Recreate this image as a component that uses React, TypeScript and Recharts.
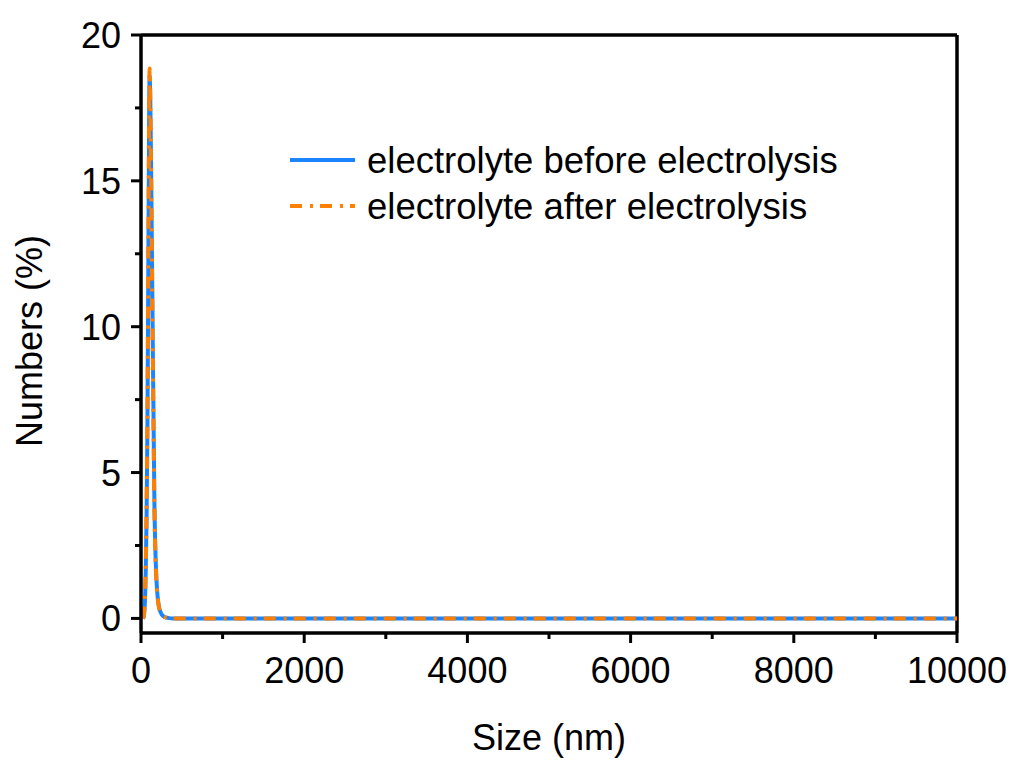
import React from 'react';
import { LineChart, Line, XAxis, YAxis, Legend, ReferenceLine } from 'recharts';

// Particle size distribution (DLS, number-weighted)
const sizes = [
  24.36, 28.21, 32.67, 37.84, 43.82, 50.75, 58.77, 68.06, 78.82, 91.28, 105.7, 122.4,
  141.8, 164.2, 190.1, 220.2, 255.0, 295.3, 342.0, 396.1, 458.7, 531.2, 615.1, 712.4,
  825.0, 955.4, 1106, 1281, 1484, 1718, 1990, 2305, 2669, 3091, 3580, 4145, 4801,
  5560, 6439, 7456, 8635, 10000,
];
const before = [
  0, 0.02, 0.06, 0.15, 0.35, 0.8, 1.7, 3.4, 6.6, 12.8, 18.6, 15.9,
  10.2, 4.0, 1.3, 0.4, 0.13, 0.04, 0.01, 0, 0, 0, 0, 0,
  0, 0, 0, 0, 0, 0, 0, 0, 0, 0, 0, 0, 0,
  0, 0, 0, 0, 0,
];
const after = [
  0, 0.02, 0.07, 0.17, 0.4, 0.9, 1.9, 3.7, 7.0, 13.2, 18.85, 15.6,
  9.8, 3.8, 1.2, 0.38, 0.12, 0.04, 0.01, 0, 0, 0, 0, 0,
  0, 0, 0, 0, 0, 0, 0, 0, 0, 0, 0, 0, 0,
  0, 0, 0, 0, 0,
];

const xTicks = [0, 1000, 2000, 3000, 4000, 5000, 6000, 7000, 8000, 9000, 10000];
const yTicks = [0, 2.5, 5, 7.5, 10, 12.5, 15, 17.5, 20];
const xDomain = [0, 10000];
const yDomain = [-0.5, 20];
const seriesNames = ['electrolyte before electrolysis', 'electrolyte after electrolysis'];

const data = sizes.map((s, i) => ({ size: s, before: before[i], after: after[i] }));

const FONT = '"Liberation Sans", Arial, Helvetica, sans-serif';
const BLUE = '#1a85ff';
const ORANGE = '#ff8000';
const DASH = '12 8 3 7';

const XTick = (props: any) => {
  const { x, y, payload } = props;
  const v = payload.value as number;
  const major = v % 2000 === 0;
  return (
    <g>
      <line x1={x} x2={x} y1={y} y2={y + (major ? 10 : 6)} stroke="#000" strokeWidth={3} />
      {major && (
        <text x={x} y={y + 50} textAnchor="middle" fontSize={36} fontFamily={FONT} fill="#000">
          {v}
        </text>
      )}
    </g>
  );
};

const YTick = (props: any) => {
  const { x, y, payload } = props;
  const v = payload.value as number;
  const major = v % 5 === 0;
  return (
    <g>
      <line x1={x - (major ? 10 : 6)} x2={x} y1={y} y2={y} stroke="#000" strokeWidth={3} />
      {major && (
        <text x={x - 20} y={y + 13} textAnchor="end" fontSize={36} fontFamily={FONT} fill="#000">
          {v}
        </text>
      )}
    </g>
  );
};

const XTitle = () => (
  <text x={549} y={750} textAnchor="middle" fontSize={36} fontFamily={FONT} fill="#000">
    Size (nm)
  </text>
);

const YTitle = () => (
  <text
    x={42}
    y={341}
    transform="rotate(-90 42 341)"
    textAnchor="middle"
    fontSize={36}
    fontFamily={FONT}
    fill="#000"
  >
    Numbers (%)
  </text>
);

const renderLegend = () => (
  <svg width={640} height={120} style={{ display: 'block' }}>
    <line x1={10} x2={75} y1={40} y2={40} stroke={BLUE} strokeWidth={4} />
    <text x={87} y={53} fontSize={36.5} fontFamily={FONT} fill="#000">
      {seriesNames[0]}
    </text>
    <line x1={10} x2={75} y1={86} y2={86} stroke={ORANGE} strokeWidth={4} strokeDasharray={DASH} />
    <text x={87} y={99} fontSize={36.5} fontFamily={FONT} fill="#000">
      {seriesNames[1]}
    </text>
  </svg>
);

export default function App() {
  return (
    <div style={{ position: 'absolute', left: 0, top: 0, width: 1013, height: 763, background: '#fff' }}>
      <LineChart
        width={1013}
        height={763}
        data={data}
        margin={{ top: 35, right: 56, bottom: 0, left: 0 }}
      >
        <XAxis
          dataKey="size"
          type="number"
          domain={xDomain}
          ticks={xTicks}
          interval={0}
          tick={<XTick />}
          tickSize={0}
          tickMargin={0}
          tickLine={false}
          height={130}
          axisLine={{ stroke: '#000', strokeWidth: 3.5 }}
          allowDataOverflow
          label={XTitle as any}
        />
        <YAxis
          type="number"
          domain={yDomain}
          ticks={yTicks}
          interval={0}
          tick={<YTick />}
          tickSize={0}
          tickMargin={0}
          tickLine={false}
          width={141}
          axisLine={{ stroke: '#000', strokeWidth: 3.5 }}
          allowDataOverflow
          label={YTitle as any}
        />
        {/* closing frame: top and right edges of the plot box */}
        <ReferenceLine y={yDomain[1]} stroke="#000" strokeWidth={3.5} ifOverflow="visible" />
        <ReferenceLine x={xDomain[1]} stroke="#000" strokeWidth={3.5} ifOverflow="visible" />
        <Legend
          layout="vertical"
          align="center"
          verticalAlign="middle"
          content={renderLegend}
          wrapperStyle={{ left: 280, top: 120, width: 640, height: 120 }}
        />
        <Line
          type="monotone"
          dataKey="before"
          name={seriesNames[0]}
          stroke={BLUE}
          strokeWidth={4}
          dot={false}
          isAnimationActive={false}
        />
        <Line
          type="monotone"
          dataKey="after"
          name={seriesNames[1]}
          stroke={ORANGE}
          strokeWidth={4}
          strokeDasharray={DASH}
          dot={false}
          isAnimationActive={false}
        />
      </LineChart>
    </div>
  );
}
